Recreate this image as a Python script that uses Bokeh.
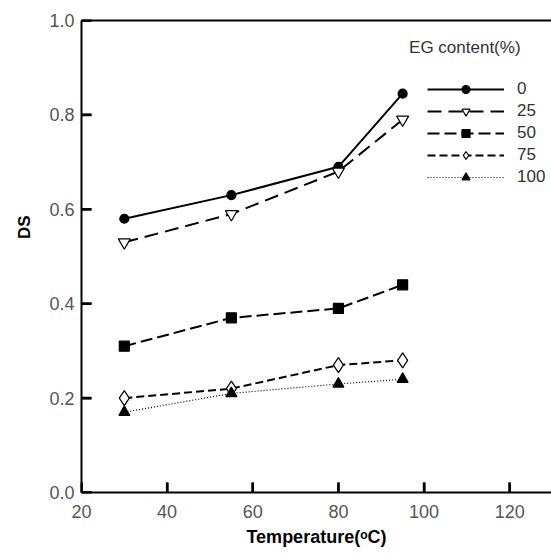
from bokeh.plotting import figure
from bokeh.models import (LinearAxis, FixedTicker, Legend, LegendItem, Label, Range1d,
                          PrintfTickFormatter, Title)
from bokeh.embed import file_html
from bokeh.resources import INLINE

temps = [30, 55, 80, 95]
ds_0 = [0.58, 0.63, 0.69, 0.845]
ds_25 = [0.53, 0.59, 0.68, 0.79]
ds_50 = [0.31, 0.37, 0.39, 0.44]
ds_75 = [0.20, 0.22, 0.27, 0.28]
ds_100 = [0.17, 0.21, 0.23, 0.24]
series_labels = ["0", "25", "50", "75", "100"]
x_ticks = [20, 40, 60, 80, 100, 120]
y_ticks = [0.0, 0.2, 0.4, 0.6, 0.8, 1.0]

FONT = "Liberation Sans"
X0, X1, Y0, Y1 = 20, 129.77, 0.0, 1.0
FRAME_W, FRAME_H = 472, 472
TICK_PX = 10

p = figure(width=551, height=552, output_backend="svg", toolbar_location=None,
           x_range=Range1d(X0, X1), y_range=Range1d(Y0, Y1),
           min_border_left=79, min_border_right=0, min_border_top=20,
           min_border_bottom=60)
p.outline_line_color = None
p.grid.visible = False
p.background_fill_alpha = 0
p.border_fill_color = "white"

for ax in (p.xaxis[0], p.yaxis[0]):
    ax.axis_line_width = 2
    ax.axis_line_color = "black"
    ax.major_tick_in = 10
    ax.major_tick_out = 0
    ax.major_tick_line_width = 2
    ax.major_tick_line_color = "black"
    ax.minor_tick_line_color = None
    ax.major_label_text_font = FONT
    ax.major_label_text_font_size = "18px"
    ax.major_label_text_color = "#555555"
    ax.axis_label_text_font = FONT
    ax.axis_label_text_font_style = "bold"
    ax.axis_label_text_font_size = "18px"
    ax.axis_label_text_color = "black"

p.xaxis[0].ticker = FixedTicker(ticks=x_ticks)
p.yaxis[0].ticker = FixedTicker(ticks=y_ticks)
p.yaxis[0].formatter = PrintfTickFormatter(format="%.1f")
p.xaxis[0].axis_label = "Temperature(\u1d52C)"
p.xaxis[0].major_label_standoff = 12
p.xaxis[0].axis_label_standoff = 6
p.yaxis[0].major_label_standoff = 7

top = LinearAxis(ticker=FixedTicker(ticks=[]), major_label_text_font_size="0px",
                 axis_line_width=2, major_tick_line_color=None,
                 minor_tick_line_color=None)
p.add_layout(top, "above")

# inward tick marks, drawn from the tick lists
dx = TICK_PX * (X1 - X0) / FRAME_W
dy = TICK_PX * (Y1 - Y0) / FRAME_H
p.segment(x0=[X0] * len(y_ticks), y0=y_ticks, x1=[X0 + dx] * len(y_ticks), y1=y_ticks,
          line_color="black", line_width=2.5)
p.segment(x0=x_ticks, y0=[Y0] * len(x_ticks), x1=x_ticks, y1=[Y0 + dy] * len(x_ticks),
          line_color="black", line_width=2.5)

ttl = Title(text="DS", align="right", offset=195, text_font=FONT,
            text_font_style="bold", text_font_size="17px", text_color="black",
            standoff=25)
p.add_layout(ttl, "left")

styles = [
    dict(dash="solid", marker="circle", size=9, fill="black", lw=2),
    dict(dash="14 7", marker="inverted_triangle", size=12, fill="white", lw=2),
    dict(dash="12 5", marker="square", size=10, fill="black", lw=2),
    dict(dash="8 4", marker="diamond", size=15, fill="white", lw=2),
    dict(dash="1 2", marker="triangle", size=11, fill="black", lw=1.2),
]
all_series = [ds_0, ds_25, ds_50, ds_75, ds_100]

items = []
for lab, ys, st in zip(series_labels, all_series, styles):
    ln = p.line(temps, ys, line_color="black", line_width=st["lw"], line_dash=st["dash"])
    sc = p.scatter(temps, ys, marker=st["marker"], size=st["size"],
                   fill_color=st["fill"], line_color="black", line_width=1.2)
    items.append(LegendItem(label=lab, renderers=[ln, sc]))

legend = Legend(items=items, location=(346, 305), padding=0, margin=0,
                glyph_width=77, glyph_height=20, label_height=20, spacing=2,
                label_standoff=13, border_line_color=None,
                background_fill_alpha=0,
                label_text_font=FONT, label_text_font_size="17px",
                label_text_color="#333333")
p.add_layout(legend)

p.add_layout(Label(x=96.5, y=0.943, text="EG content(%)", text_font=FONT,
                   text_font_size="17px", text_color="#333333",
                   text_baseline="middle", text_align="left"))

open("out.html", "w").write(file_html(p, INLINE))
